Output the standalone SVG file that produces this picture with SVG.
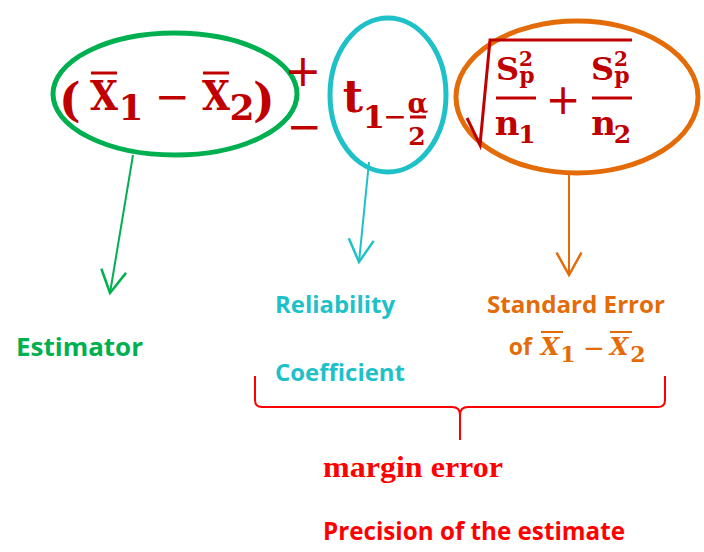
<svg xmlns="http://www.w3.org/2000/svg" width="704" height="552" viewBox="0 0 704 552">
<style>
.m{font-family:"DejaVu Serif","Liberation Serif",serif;font-weight:bold;fill:#C00000;text-anchor:middle}
.ms{font-family:"DejaVu Sans","Liberation Sans",sans-serif;fill:#C00000;text-anchor:middle}
.bar{stroke:#C00000;stroke-width:3;fill:none}
.lbl{font-family:"Open Sans","Noto Sans","Liberation Sans",sans-serif;font-weight:bold}
.oi{font-family:"DejaVu Serif","Liberation Serif",serif;font-weight:bold;fill:#E36C09;text-anchor:middle}
.os{font-family:"DejaVu Sans","Liberation Sans",sans-serif;fill:#E36C09;text-anchor:middle}
.ell{fill:none;stroke-width:5}
.arr{fill:none;stroke-width:2}
</style>
<defs>
<marker id="hg" markerUnits="userSpaceOnUse" markerWidth="30" markerHeight="30" viewBox="-20 -12 22 24" refX="0" refY="0" orient="auto"><path d="M-18,-10 L0,0 L-18,10" fill="none" stroke="#00B050" stroke-width="2"/></marker>
<marker id="hc" markerUnits="userSpaceOnUse" markerWidth="30" markerHeight="30" viewBox="-20 -12 22 24" refX="0" refY="0" orient="auto"><path d="M-18,-10 L0,0 L-18,10" fill="none" stroke="#1FC1C9" stroke-width="2"/></marker>
<marker id="ho" markerUnits="userSpaceOnUse" markerWidth="30" markerHeight="30" viewBox="-20 -12 22 24" refX="0" refY="0" orient="auto"><path d="M-18,-10 L0,0 L-18,10" fill="none" stroke="#E36C09" stroke-width="2"/></marker>
</defs>

<g id="estimator-term">
<ellipse class="ell" cx="175" cy="94" rx="122" ry="61" stroke="#00B050"/>
<text class="m" x="70" y="116" font-size="46">(</text>
<text class="m" x="104" y="110" font-size="41" textLength="28" lengthAdjust="spacingAndGlyphs">X</text>
<line class="bar" x1="91" y1="73" x2="117" y2="73"/>
<text class="m" x="131" y="120" font-size="36">1</text>
<text class="ms" x="172" y="111" font-size="42">−</text>
<text class="m" x="216" y="110" font-size="41" textLength="28" lengthAdjust="spacingAndGlyphs">X</text>
<line class="bar" x1="203" y1="73" x2="229" y2="73"/>
<text class="m" x="242" y="120" font-size="36">2</text>
<text class="m" x="264" y="116" font-size="46">)</text>
</g>

<g id="plus-minus">
<text class="ms" x="303" y="86" font-size="44">+</text>
<text class="ms" x="304" y="141" font-size="42">−</text>
</g>

<g id="reliability-term">
<ellipse class="ell" cx="388" cy="95" rx="58" ry="77" stroke="#1FC1C9"/>
<text class="m" x="353" y="112" font-size="44">t</text>
<text class="m" x="374" y="128" font-size="32">1</text>
<text class="ms" x="395" y="126" font-size="28">−</text>
<text class="m" x="418" y="113" font-size="27">α</text>
<line class="bar" x1="410" y1="117" x2="426" y2="117" stroke-width="2.5"/>
<text class="m" x="417" y="145" font-size="25">2</text>
</g>

<g id="standard-error-term">
<ellipse class="ell" cx="577" cy="97" rx="121" ry="76" stroke="#E36C09"/>
<polyline class="bar" points="467,118 480,145 490,40 632,40" stroke-width="2.5"/>
<text class="m" x="507.5" y="80" font-size="32">S</text>
<text class="m" x="526" y="66" font-size="20">2</text>
<text class="m" x="527" y="83" font-size="22">p</text>
<line class="bar" x1="496" y1="98" x2="536" y2="98"/>
<text class="m" x="507" y="135" font-size="34">n</text>
<text class="m" x="527" y="143" font-size="25">1</text>
<text class="ms" x="563" y="114" font-size="42">+</text>
<text class="m" x="602.5" y="80" font-size="32">S</text>
<text class="m" x="621" y="66" font-size="20">2</text>
<text class="m" x="622" y="83" font-size="22">p</text>
<line class="bar" x1="592" y1="98" x2="632" y2="98"/>
<text class="m" x="603.5" y="135" font-size="34">n</text>
<text class="m" x="622.5" y="143" font-size="25">2</text>
</g>

<g id="connectors">
<line class="arr" x1="133" y1="155" x2="110" y2="293" stroke="#00B050" marker-end="url(#hg)"/>
<line class="arr" x1="369" y1="162" x2="359" y2="262" stroke="#1FC1C9" marker-end="url(#hc)"/>
<line class="arr" x1="569" y1="172" x2="569" y2="275" stroke="#E36C09" marker-end="url(#ho)"/>
<path id="brace" d="M255,376 L255,400 Q255,407 262,407 L452,407 Q460,407 460,415 L460,440 M460,415 Q460,407 468,407 L658,407 Q665,407 665,400 L665,376" fill="none" stroke="#FF0000" stroke-width="2"/>
</g>

<g id="label-estimator">
<text class="lbl" x="16" y="356" font-size="25" fill="#00B050" textLength="127" lengthAdjust="spacingAndGlyphs">Estimator</text>
</g>
<g id="label-reliability">
<text class="lbl" x="275" y="313" font-size="23" fill="#1FC1C9" textLength="120" lengthAdjust="spacingAndGlyphs">Reliability</text>
<text class="lbl" x="275" y="381" font-size="23" fill="#1FC1C9" textLength="130" lengthAdjust="spacingAndGlyphs">Coefficient</text>
</g>
<g id="label-standard-error">
<text class="lbl" x="487" y="313" font-size="23" fill="#E36C09" textLength="178" lengthAdjust="spacingAndGlyphs">Standard Error</text>
<text class="lbl" x="532" y="355" font-size="23" fill="#E36C09" text-anchor="end">of</text>
<text class="oi" x="550" y="355" font-size="24" font-style="italic">X</text>
<line x1="541" y1="332" x2="563" y2="332" stroke="#E36C09" stroke-width="2"/>
<text class="oi" x="568" y="362" font-size="22">1</text>
<text class="os" x="594" y="357" font-size="26">−</text>
<text class="oi" x="619" y="355" font-size="24" font-style="italic">X</text>
<line x1="610" y1="332" x2="632" y2="332" stroke="#E36C09" stroke-width="2"/>
<text class="oi" x="638" y="362" font-size="22">2</text>
</g>
<g id="label-margin">
<text x="323" y="477" font-family="'Liberation Serif','DejaVu Serif',serif" font-weight="bold" font-size="29" fill="#FF0000" textLength="180" lengthAdjust="spacingAndGlyphs">margin error</text>
<text class="lbl" x="323" y="540" font-size="25" fill="#FF0000" textLength="302" lengthAdjust="spacingAndGlyphs">Precision of the estimate</text>
</g>
</svg>
